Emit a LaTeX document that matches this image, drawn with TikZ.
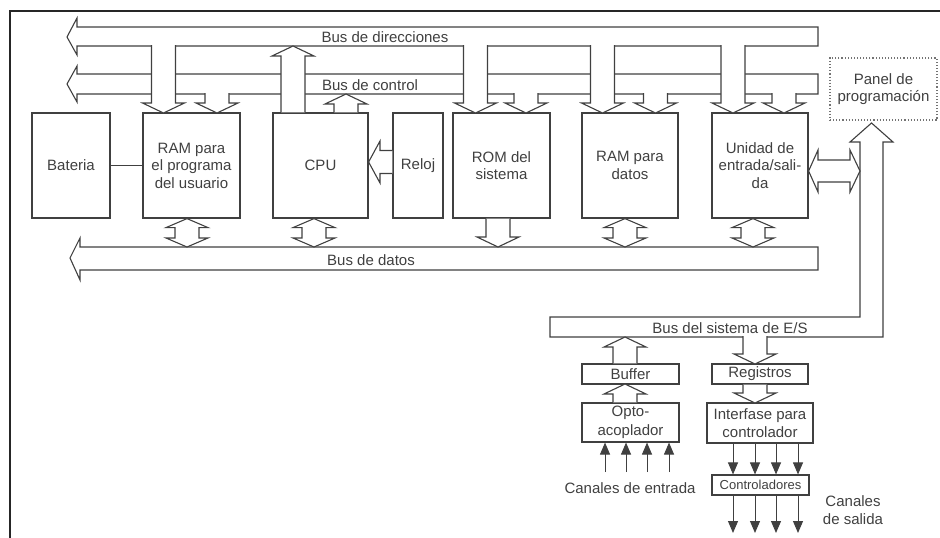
\documentclass[tikz,border=0pt]{standalone}
\usepackage{fontspec}
\setmainfont{Liberation Sans}
\usepackage{tikz}
\usetikzlibrary{arrows.meta,positioning,calc}
% hollow bus arrows: centre, start, tip
\newcommand{\busdown}[3]{%
  \draw[busline] (#1-12,#2) -- (#1-12,#3-10) -- (#1-21,#3-10) -- (#1,#3)
    -- (#1+21,#3-10) -- (#1+12,#3-10) -- (#1+12,#2);}
\newcommand{\busup}[3]{%
  \draw[busline] (#1-12,#2) -- (#1-12,#3+10) -- (#1-21,#3+10) -- (#1,#3)
    -- (#1+21,#3+10) -- (#1+12,#3+10) -- (#1+12,#2);}
% centre, upper tip, lower tip
\newcommand{\busboth}[3]{%
  \draw[busline] (#1,#2) -- (#1+21,#2+9) -- (#1+12,#2+9) -- (#1+12,#3-9)
    -- (#1+21,#3-9) -- (#1,#3) -- (#1-21,#3-9) -- (#1-12,#3-9)
    -- (#1-12,#2+9) -- (#1-21,#2+9) -- cycle;}

\begin{document}
\begin{tikzpicture}[x=1pt,y=-1pt,font=\fontsize{15}{17.5}\selectfont,text=black!75,
  busline/.style={draw=black!75,line width=1.1pt,fill=white},
  blk/.style={draw=black!75,line width=1.1pt,align=center,inner sep=0pt},
  chan/.style={draw=black!75,line width=1pt,-{Triangle[width=10pt,length=12pt]}}]
  \useasboundingbox (0,0) rectangle (940,538);
  % frame
  \draw[line width=1.5pt,black!85] (10,538) -- (10,11) -- (940,11);
  % boxes
  \node[blk,minimum width=78,minimum height=105] (bat) at (71,165.5) {Bateria};
  \node[blk,minimum width=97,minimum height=105] (ramu) at (191.5,165.5) {RAM para\\el programa\\del usuario};
  \node[blk,minimum width=95,minimum height=105] (cpu) at (320.5,165.5) {CPU};
  \node[blk,minimum width=50,minimum height=105] (reloj) at (418,165.5) {Reloj};
  \node[blk,minimum width=97,minimum height=105] (rom) at (501.5,165.5) {ROM del\\sistema};
  \node[blk,minimum width=96,minimum height=105] (ramd) at (630,165.5) {RAM para\\datos};
  \node[blk,minimum width=96,minimum height=105] (es) at (760,165.5) {Unidad de\\entrada/sali-\\da};
  \node[blk,dotted,draw=black!55,minimum width=107,minimum height=62] (panel) at (883.5,89) {Panel de\\programación};
  \draw[black!75,line width=1.1pt] (bat) -- (ramu);
  % address, control and data buses
  \draw[busline] (67,37) -- (77,18) -- (77,27) -- (818,27) -- (818,46) -- (77,46) -- (77,55) -- cycle;
  \draw[busline] (67,84) -- (77,66) -- (77,74) -- (818,74) -- (818,94) -- (77,94) -- (77,102) -- cycle;
  \draw[busline] (70,258) -- (80,238) -- (80,247) -- (818,247) -- (818,270) -- (80,270) -- (80,280) -- cycle;
  % control branches
  \busdown{217}{93}{113}
  \busdown{526}{93}{113}
  \busdown{655.5}{93}{113}
  \busdown{784}{93}{113}
  % address branches
  \busdown{163.5}{45}{113}
  \busdown{475.5}{45}{113}
  \busdown{602.5}{45}{113}
  \busdown{733}{45}{113}
  % cpu outputs
  \busup{293}{112.4}{46}
  \busup{346}{112.4}{94}
  \draw[busline] (392.4,150.5) -- (380,150.5) -- (380,141) -- (368.6,162) -- (380,183)
    -- (380,173.5) -- (392.4,173.5);
  % to data bus
  \busboth{187}{218.6}{247}
  \busboth{314}{218.6}{247}
  \busdown{498}{218.6}{247}
  \busboth{625}{218.6}{247}
  \busboth{753}{218.6}{247}
  % E/S system bus
  \draw[busline] (860,142) -- (850,142) -- (871.5,123) -- (893,142) -- (883,142)
    -- (883,337) -- (550,337) -- (550,317) -- (860,317) -- cycle;
  \draw[busline] (808.6,171) -- (818,150) -- (818,160) -- (850,160) -- (850,150) -- (860,171)
    -- (850,192) -- (850,182) -- (818,182) -- (818,192) -- cycle;
  % i/o section
  \node[blk,minimum width=97,minimum height=20] (buf) at (630.5,374) {Buffer};
  \node[blk,minimum width=96,minimum height=20] (reg) at (760,374) {Registros};
  \node[blk,minimum width=97,minimum height=39,font=\fontsize{15}{18.5}\selectfont] (opto) at (630.5,422.5) {Opto-\\acoplador};
  \node[blk,minimum width=106,minimum height=40,font=\fontsize{15}{18.5}\selectfont] (inter) at (760,423) {Interfase para\\controlador};
  \node[blk,minimum width=97,minimum height=20,font=\fontsize{13}{15}\selectfont] (ctrl) at (760.5,485) {Controladores};
  \busdown{755}{336}{364}
  \busup{625}{363.4}{337}
  \busup{625}{402.4}{384}
  \busdown{755}{384.6}{403}
  \foreach \x [count=\i] in {605,626,647,669} {
    \coordinate (in\i) at (\x,472);
    \draw[chan] (in\i) -- (in\i |- opto.south);
  }
  \foreach \x [count=\i] in {733,755,776,798} {
    \coordinate (out\i) at (\x,533);
    \draw[chan] (inter.south -| out\i) -- (ctrl.north -| out\i);
    \draw[chan] (ctrl.south -| out\i) -- (out\i);
  }
  % labels
  \node (ldir) at (385,37) {Bus de direcciones};
  \node (lctl) at (370,85) {Bus de control};
  \node (ldat) at (371,260) {Bus de datos};
  \node (les) at (730,328) {Bus del sistema de E/S};
  \node (lin) at (630,488) {Canales de entrada};
  \node[align=center] (lout) at (853,510) {Canales\\de salida};
\end{tikzpicture}
\end{document}
